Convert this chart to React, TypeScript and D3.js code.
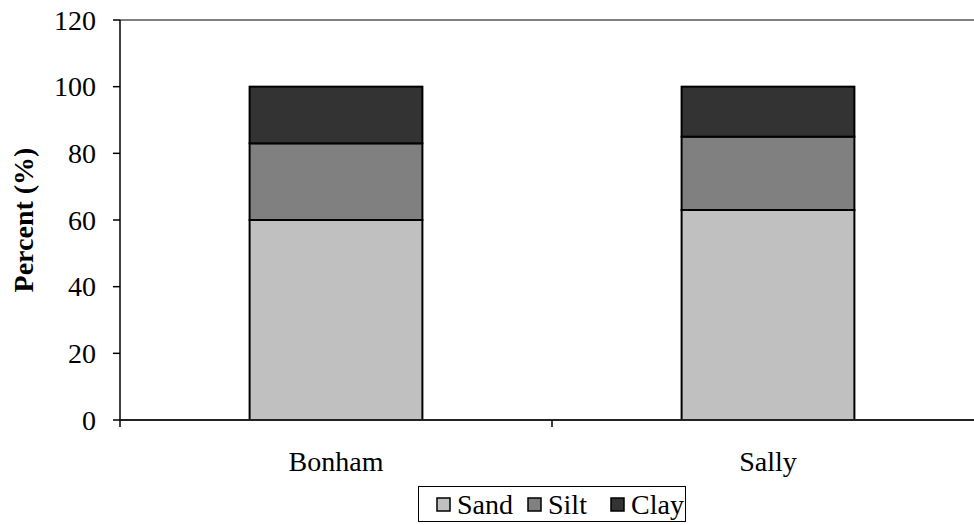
import * as d3 from "d3";

const categories = ["Bonham", "Sally"];
const components = ["Sand", "Silt", "Clay"];
const sand = [60, 63];
const silt = [23, 22];
const clay = [17, 15];
const yTicks = [0, 20, 40, 60, 80, 100, 120];

const colors: Record<string, string> = {
  Sand: "#C0C0C0",
  Silt: "#808080",
  Clay: "#333333",
};

const width = 974;
const height = 525;
const left = 120;
const right = 984;
const top = 20;
const bottom = 420;

const txt = { fontFamily: "Liberation Serif", fontSize: "28px" };

const App = () => {
  document.body.style.margin = "0";

  const x = d3.scaleBand<string>().domain(categories).range([left, right]).padding(0);
  const y = d3.scaleLinear().domain([0, 120]).range([bottom, top]);
  const barW = x.bandwidth() * 0.4;

  const rows = categories.map((c, i) => ({
    cat: c,
    Sand: sand[i],
    Silt: silt[i],
    Clay: clay[i],
  }));
  const stacked = d3.stack<any>().keys(components)(rows);
  const xTickPos = [left, ...categories.slice(1).map((c) => x(c)!), right];
  const legendX = [437, 528, 611];

  return (
    <svg width={width} height={height} style={{ display: "block", background: "#fff" }}>
      {/* plot area border (top) */}
      <line x1={left} x2={right} y1={top} y2={top} stroke="#808080" strokeWidth={2} />

      {/* stacked bars */}
      {stacked.map((layer) => (
        <g key={layer.key}>
          {layer.map((d: any) => (
            <rect
              key={d.data.cat}
              x={x(d.data.cat)! + (x.bandwidth() - barW) / 2}
              y={y(d[1])}
              width={barW}
              height={y(d[0]) - y(d[1])}
              fill={colors[layer.key]}
              stroke="#000"
              strokeWidth={2}
            />
          ))}
        </g>
      ))}

      {/* y axis */}
      <line x1={left} x2={left} y1={top} y2={bottom} stroke="#000" strokeWidth={1.5} />
      {yTicks.map((t) => (
        <g key={t}>
          <line x1={left - 7} x2={left} y1={y(t)} y2={y(t)} stroke="#000" strokeWidth={1.5} />
          <text x={96} y={y(t) + 9.5} textAnchor="end" style={txt}>
            {t}
          </text>
        </g>
      ))}

      {/* x axis */}
      <line x1={left} x2={right} y1={bottom} y2={bottom} stroke="#222" strokeWidth={2} />
      {xTickPos.map((p) => (
        <line key={p} x1={p} x2={p} y1={bottom} y2={bottom + 7} stroke="#000" strokeWidth={1.5} />
      ))}
      {categories.map((c) => (
        <text key={c} x={x(c)! + x.bandwidth() / 2} y={471} textAnchor="middle" style={txt}>
          {c}
        </text>
      ))}

      {/* y label */}
      <text
        transform={`translate(33,${(top + bottom) / 2}) rotate(-90)`}
        textAnchor="middle"
        style={{ ...txt, fontWeight: "bold" }}
      >
        Percent (%)
      </text>

      {/* legend */}
      <rect x={418.5} y={486.5} width={267} height={35} fill="#fff" stroke="#000" strokeWidth={1} />
      {components.map((k, i) => (
        <g key={k}>
          <rect
            x={legendX[i]}
            y={498}
            width={13}
            height={13}
            fill={colors[k]}
            stroke="#000"
            strokeWidth={1.5}
          />
          <text x={legendX[i] + 20} y={514} style={txt}>
            {k}
          </text>
        </g>
      ))}
    </svg>
  );
};

export default App;
